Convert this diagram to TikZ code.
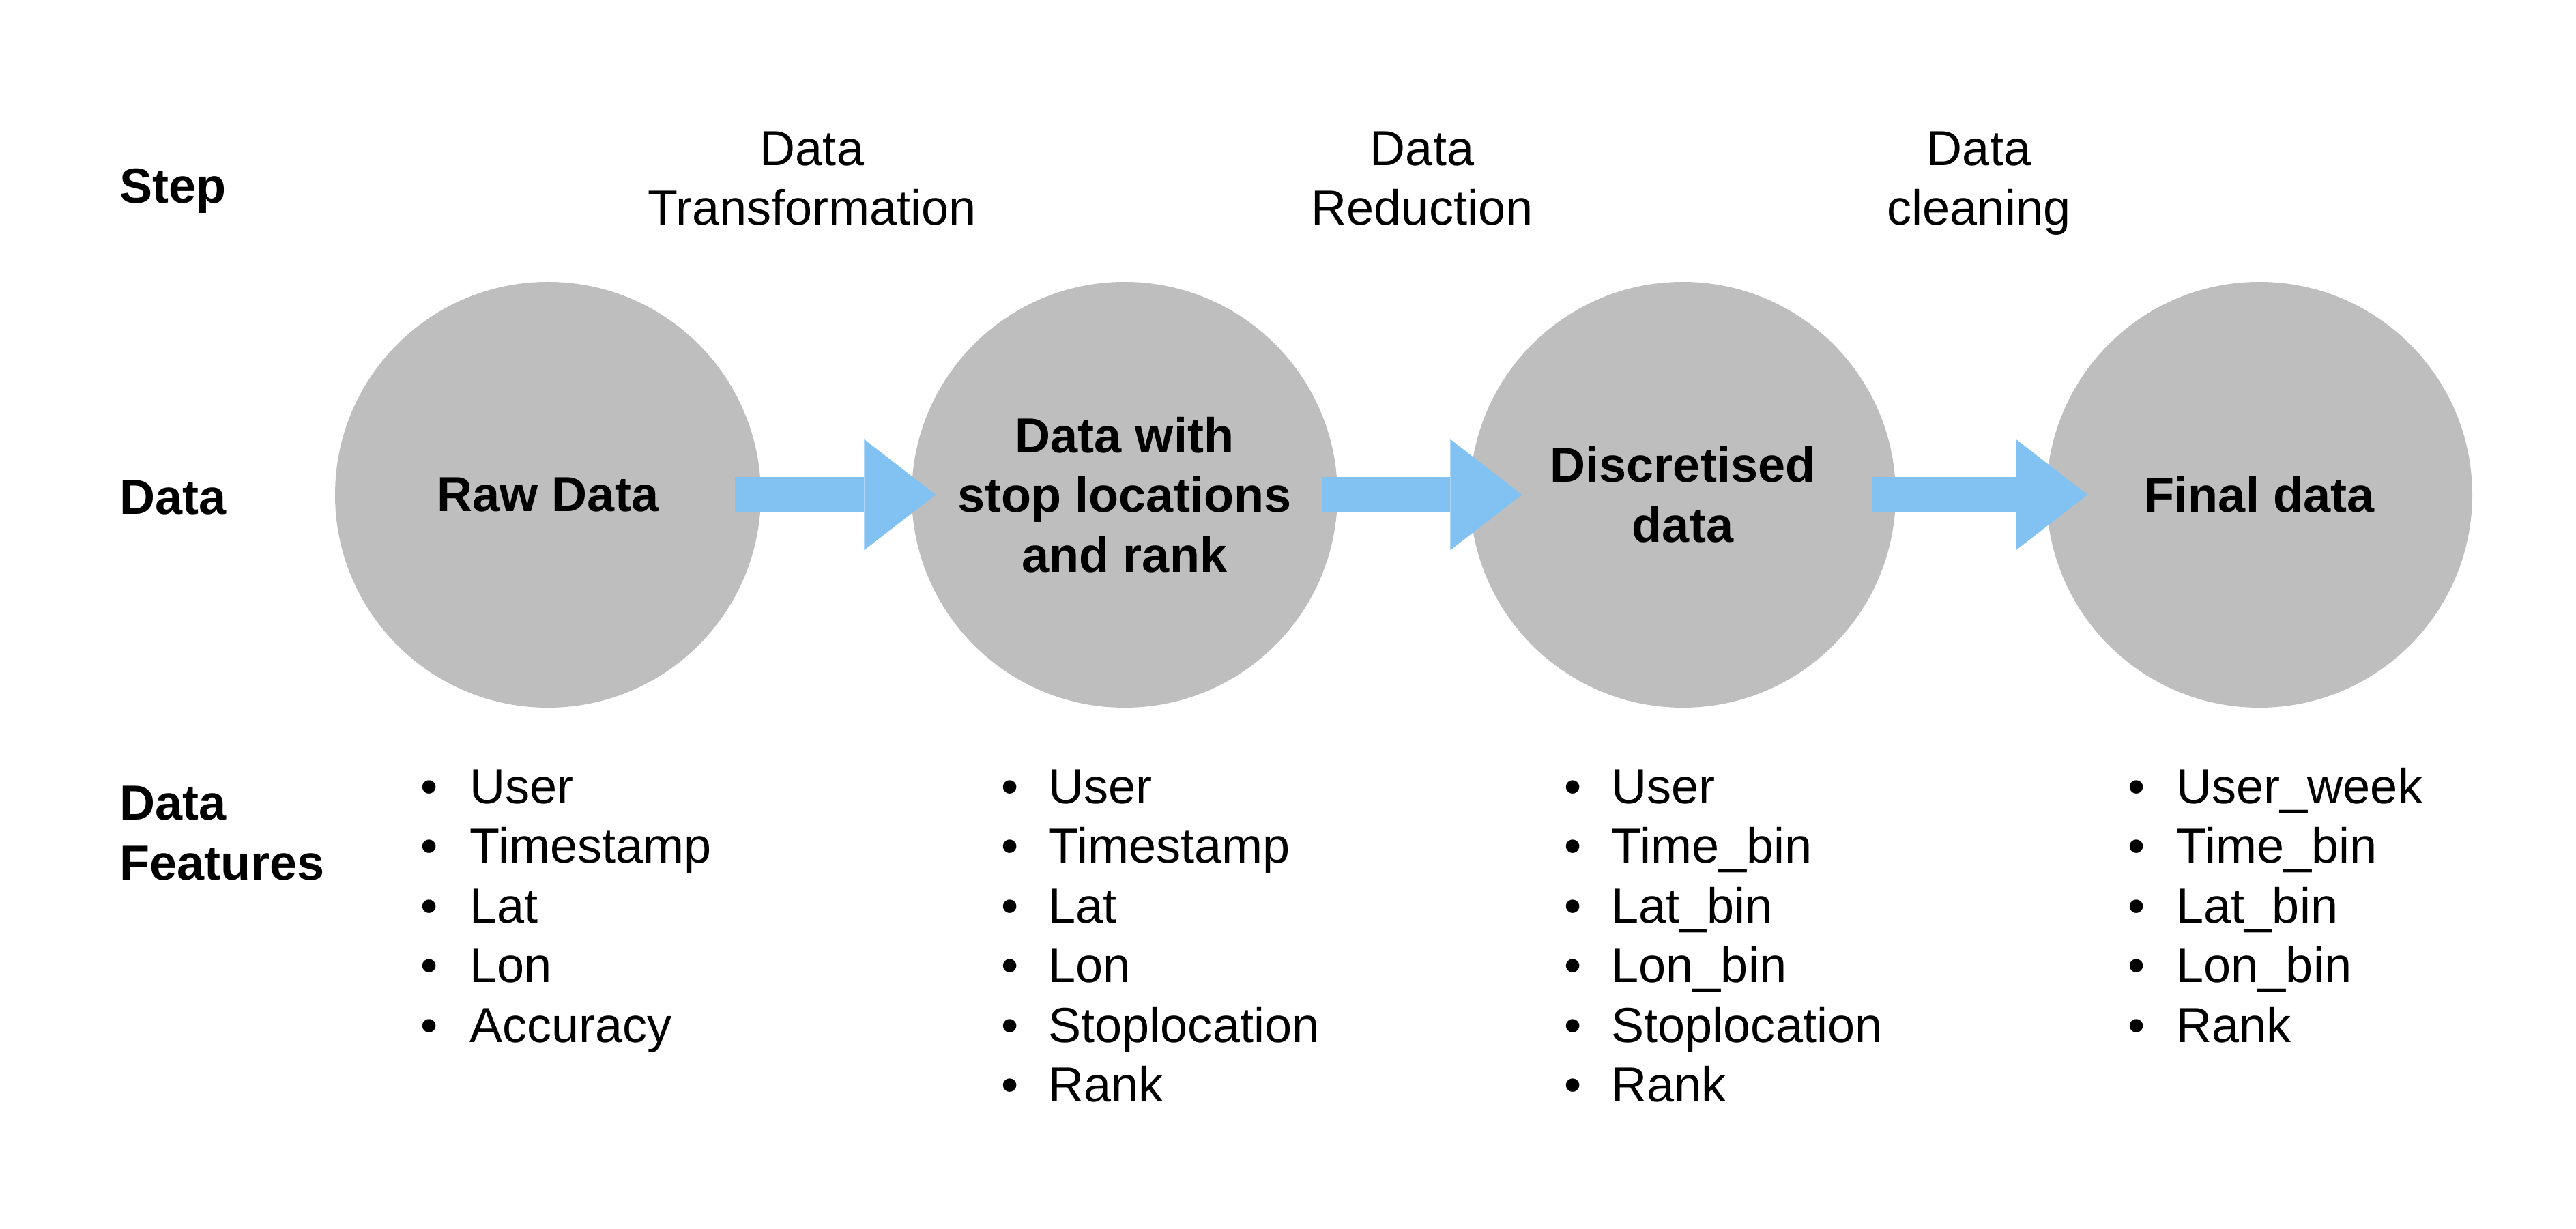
\documentclass[tikz,border=0pt]{standalone}
\usepackage{fontspec}
\setmainfont{Liberation Sans}
\usetikzlibrary{arrows.meta}

\definecolor{circlegray}{RGB}{190,190,190}
\definecolor{arrowblue}{RGB}{130,194,242}

\begin{document}
\begin{tikzpicture}[
	every node/.style={font=\fontsize{20.5}{24.9}\selectfont},
	stage/.style={circle, fill=circlegray, minimum size=6.24cm, inner sep=0pt, align=center, font=\fontsize{20.5}{24.9}\selectfont\bfseries},
	rowlabel/.style={anchor=base west, inner sep=0pt, align=left, font=\fontsize{20.5}{24.9}\selectfont\bfseries},
	steplabel/.style={anchor=base, inner sep=0pt, align=center},
	item/.style={anchor=base west, inner sep=0pt},
	itemdot/.style={anchor=base, inner sep=0pt},
	flow/.style={draw=arrowblue, line width=5.25mm, -{Triangle[length=10.5mm, width=16.25mm, line width=0pt]}}
]

		\useasboundingbox (0,0) rectangle (37.75,18);

		% row labels
		\node[rowlabel] (step) at (1.75,15.02) {Step};
		\node[rowlabel] (data) at (1.75,10.46) {Data};
		\node[rowlabel] (features) at (1.75,5.11) {Data\\Features};

		% steps
		\node[steplabel] (transform) at (11.90,14.70) {Data\\Transformation};
		\node[steplabel] (reduce) at (20.84,14.70) {Data\\Reduction};
		\node[steplabel] (clean) at (29.00,14.70) {Data\\cleaning};

		% data
		\node[stage] (raw) at (8.03,10.75) {Raw Data};
		\node[stage] (stops) at (16.48,10.75) {Data with\\stop locations\\and rank};
		\node[stage] (discrete) at (24.66,10.75) {Discretised\\data};
		\node[stage] (final) at (33.11,10.75) {Final data};

		\draw[flow] ([xshift=-3.9mm]raw.east) -- ([xshift=3.6mm]stops.west);
		\draw[flow] ([xshift=-2.4mm]stops.east) -- ([xshift=7.7mm]discrete.west);
		\draw[flow] ([xshift=-3.6mm]discrete.east) -- ([xshift=6.1mm]final.west);

		% features
		\foreach \t [count=\i from 0] in {User,Timestamp,Lat,Lon,Accuracy}{
			\node[itemdot] (b1-\i) at (6.29,6.23-0.875*\i) {•};
			\node[item] (f1-\i) at (6.88,6.23-0.875*\i) {\t};
		}
		\foreach \t [count=\i from 0] in {User,Timestamp,Lat,Lon,Stoplocation,Rank}{
			\node[itemdot] (b2-\i) at (14.80,6.23-0.875*\i) {•};
			\node[item] (f2-\i) at (15.36,6.23-0.875*\i) {\t};
		}
		\foreach \t [count=\i from 0] in {User,Time\_bin,Lat\_bin,Lon\_bin,Stoplocation,Rank}{
			\node[itemdot] (b3-\i) at (23.05,6.23-0.875*\i) {•};
			\node[item] (f3-\i) at (23.61,6.23-0.875*\i) {\t};
		}
		\foreach \t [count=\i from 0] in {User\_week,Time\_bin,Lat\_bin,Lon\_bin,Rank}{
			\node[itemdot] (b4-\i) at (31.31,6.23-0.875*\i) {•};
			\node[item] (f4-\i) at (31.89,6.23-0.875*\i) {\t};
		}

	\end{tikzpicture}
\end{document}
